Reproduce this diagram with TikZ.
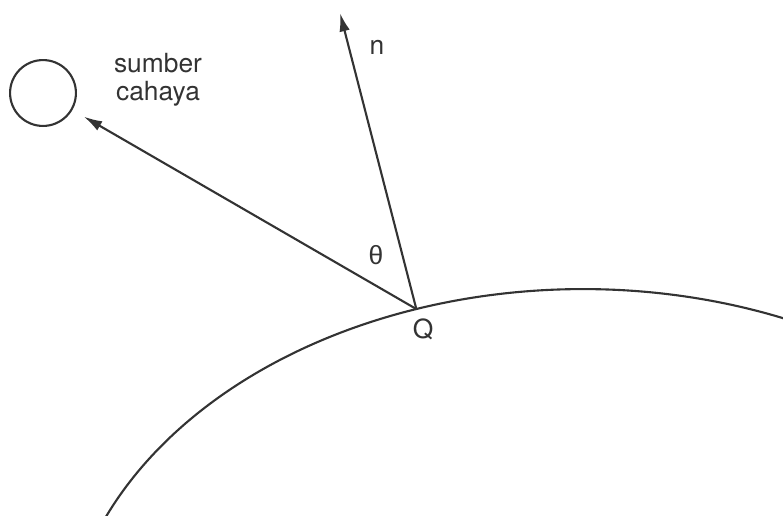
\documentclass[tikz,border=0pt]{standalone}
\usepackage{fontspec}
\setsansfont{TeX Gyre Heros}
\newfontfamily\greekfont{Liberation Sans}
\usetikzlibrary{arrows.meta,positioning,calc}

\begin{document}
\begin{tikzpicture}[>={Latex[length=10.5pt,width=6pt]},x=0.02cm,y=0.02cm,
  ln/.style={line width=1.2pt,black!80},
  lbl/.style={font=\sffamily\fontsize{15}{16}\selectfont,text=black!80,inner sep=0pt}]
  \useasboundingbox (0,0) rectangle (783,515);
  % permukaan benda
  \coordinate (centre) at (583,-152);
  \draw[ln] (centre) ++(157:10.4cm and 7.56cm) arc[start angle=157,end angle=66,x radius=10.4cm,y radius=7.56cm];
  \path (centre) ++(108.7:10.4cm and 7.56cm) coordinate (Q);
  % sumber cahaya
  \node[ln,draw,circle,minimum size=37.5pt,inner sep=0pt] (light) at (43,422) {};
  \node[lbl,align=center] (src) at (158,435) {sumber\\cahaya};
  \coordinate (ntip) at (340,502);
  \draw[ln,->,shorten >=7.5pt] (Q) -- (light);
  \draw[ln,->] (Q) -- (ntip);
  \node[lbl] (n) at (377,468) {n};
  \node[lbl,font=\greekfont\fontsize{15}{16}\selectfont] (theta) at (376,260) {θ};
  \node[lbl] (q) at (423,186) {Q};
\end{tikzpicture}
\end{document}
